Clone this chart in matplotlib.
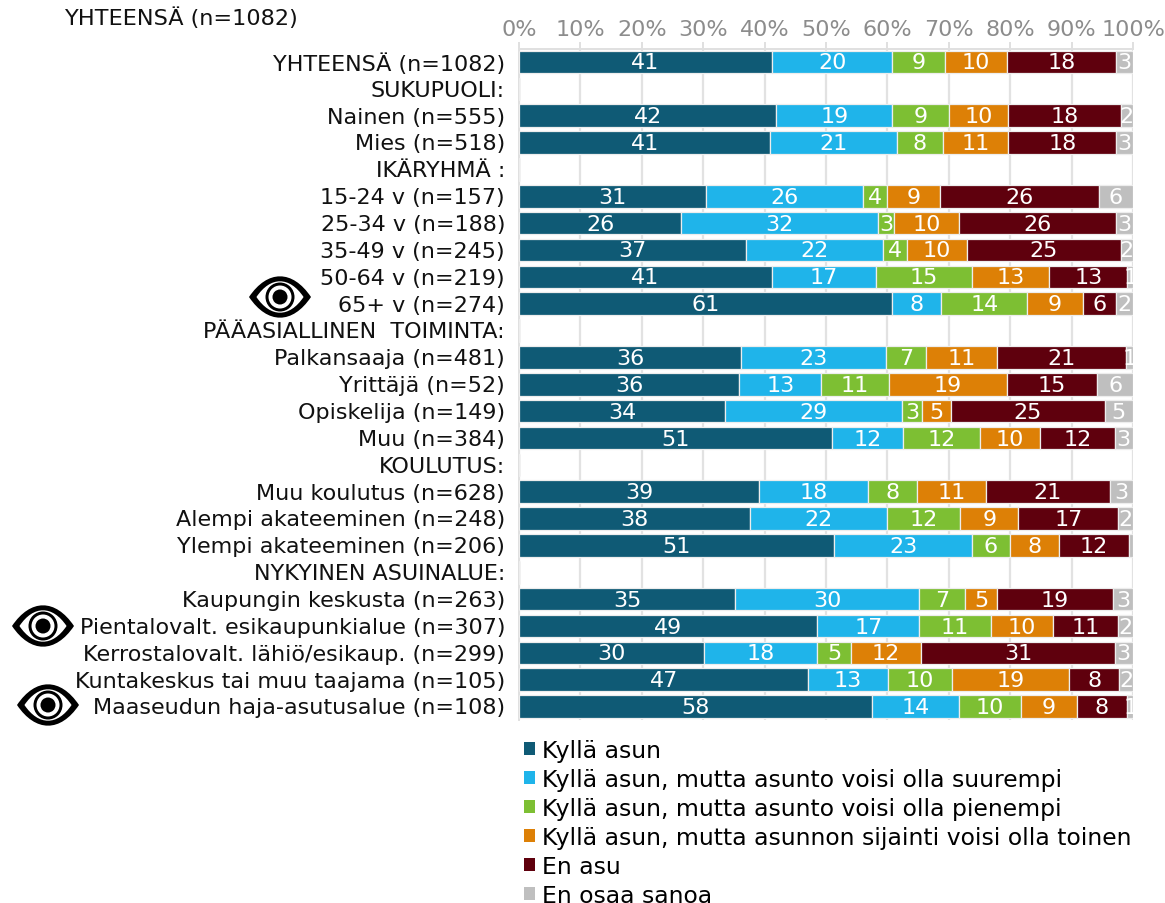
import matplotlib
matplotlib.use("Agg")
import matplotlib.pyplot as plt
from matplotlib.patches import Circle, PathPatch, Patch
from matplotlib.path import Path
from matplotlib.transforms import ScaledTranslation
import numpy as np

plt.rcParams["font.family"] = "DejaVu Sans"

categories = ["YHTEENSÄ (n=1082)", "SUKUPUOLI:", "Nainen (n=555)", "Mies (n=518)", "IKÄRYHMÄ :",
              "15-24 v (n=157)", "25-34 v (n=188)", "35-49 v (n=245)", "50-64 v (n=219)", "65+ v (n=274)",
              "PÄÄASIALLINEN  TOIMINTA:", "Palkansaaja (n=481)", "Yrittäjä (n=52)", "Opiskelija (n=149)",
              "Muu (n=384)", "KOULUTUS:", "Muu koulutus (n=628)", "Alempi akateeminen (n=248)",
              "Ylempi akateeminen (n=206)", "NYKYINEN ASUINALUE:", "Kaupungin keskusta (n=263)",
              "Pientalovalt. esikaupunkialue (n=307)", "Kerrostalovalt. lähiö/esikaup. (n=299)",
              "Kuntakeskus tai muu taajama (n=105)", "Maaseudun haja-asutusalue (n=108)"]

series_names = ["Kyllä asun", "Kyllä asun, mutta asunto voisi olla suurempi",
                "Kyllä asun, mutta asunto voisi olla pienempi",
                "Kyllä asun, mutta asunnon sijainti voisi olla toinen", "En asu", "En osaa sanoa"]
colors = ["#0F5A75", "#1FB4EA", "#7DBF33", "#DD8006", "#5F000D", "#BFBFBF"]

# bar lengths, 0 = heading row
kylla = [41.2, 0, 41.9, 40.9, 0, 30.5, 26.4, 37.0, 41.2, 60.8, 0, 36.2, 35.9, 33.6, 51.0, 0, 39.1, 37.7, 51.3, 0, 35.2, 48.6, 30.2, 47.1, 57.5]
suurempi = [19.6, 0, 18.9, 20.6, 0, 25.6, 32.1, 22.3, 17.0, 8.0, 0, 23.5, 13.3, 28.7, 11.6, 0, 17.8, 22.3, 22.5, 0, 30.0, 16.6, 18.4, 13.0, 14.2]
pienempi = [8.6, 0, 9.3, 7.6, 0, 3.9, 2.6, 3.9, 15.5, 14.0, 0, 6.6, 11.1, 3.4, 12.4, 0, 8.0, 11.9, 6.1, 0, 7.5, 11.6, 5.4, 10.5, 10.1]
sijainti = [10.1, 0, 9.6, 10.6, 0, 8.6, 10.5, 9.8, 12.7, 9.0, 0, 11.5, 19.1, 4.6, 9.9, 0, 11.1, 9.4, 8.0, 0, 5.1, 10.1, 11.5, 19.0, 9.0]
en_asu = [17.8, 0, 18.3, 17.6, 0, 25.8, 25.7, 25.0, 12.7, 5.5, 0, 21.0, 14.8, 25.1, 12.1, 0, 20.3, 16.3, 11.5, 0, 18.9, 10.7, 31.5, 8.2, 8.3]
eos = [2.7, 0, 2.0, 2.7, 0, 5.6, 2.7, 2.0, 0.9, 2.7, 0, 1.2, 5.8, 4.6, 3.0, 0, 3.7, 2.4, 0.6, 0, 3.3, 2.4, 3.0, 2.2, 0.9]

# printed labels, these are the rounded numbers in the chart
lab_kylla = [41, 0, 42, 41, 0, 31, 26, 37, 41, 61, 0, 36, 36, 34, 51, 0, 39, 38, 51, 0, 35, 49, 30, 47, 58]
lab_suurempi = [20, 0, 19, 21, 0, 26, 32, 22, 17, 8, 0, 23, 13, 29, 12, 0, 18, 22, 23, 0, 30, 17, 18, 13, 14]
lab_pienempi = [9, 0, 9, 8, 0, 4, 3, 4, 15, 14, 0, 7, 11, 3, 12, 0, 8, 12, 6, 0, 7, 11, 5, 10, 10]
lab_sijainti = [10, 0, 10, 11, 0, 9, 10, 10, 13, 9, 0, 11, 19, 5, 10, 0, 11, 9, 8, 0, 5, 10, 12, 19, 9]
lab_en_asu = [18, 0, 18, 18, 0, 26, 26, 25, 13, 6, 0, 21, 15, 25, 12, 0, 21, 17, 12, 0, 19, 11, 31, 8, 8]
lab_eos = [3, 0, 2, 3, 0, 6, 3, 2, 1, 2, 0, 1, 6, 5, 3, 0, 3, 2, 1, 0, 3, 2, 3, 2, 1]

values = [kylla, suurempi, pienempi, sijainti, en_asu, eos]
labels = [lab_kylla, lab_suurempi, lab_pienempi, lab_sijainti, lab_en_asu, lab_eos]

W, H = 1165, 904
fig = plt.figure(figsize=(W / 100, H / 100), dpi=100)
ax = fig.add_axes([519 / W, 1 - 721 / H, 614 / W, (721 - 49.5) / H])

y = np.arange(len(categories))
left = np.zeros(len(categories))
for vals, labs, col in zip(values, labels, colors):
    vals = np.array(vals)
    bars = ax.barh(y, vals, left=left, height=0.84, color=col, edgecolor="#EDEDED", linewidth=0.9, zorder=3)
    for b, v, lab, l, yy in zip(bars, vals, labs, left, y):
        if v < 0.8:
            continue
        t = ax.text(l + v / 2, yy + 0.02, str(lab), color="white", fontsize=16, ha="center", va="center", zorder=4)
        t.set_clip_path(b)
    left = left + vals

ax.set_xlim(0, 100)
ax.set_ylim(len(categories) - 0.5, -0.5)
ax.set_xticks(np.arange(0, 101, 10))
ax.set_xticklabels(["%d%%" % p for p in range(0, 101, 10)], color="#8C8C8C", fontsize=16)
ax.xaxis.tick_top()
ax.tick_params(axis="x", length=5, width=1.4, color="#E0E0E0", pad=2)
ax.set_yticks(y)
ax.set_yticklabels(categories, fontsize=16, color="#111111")
ax.tick_params(axis="y", length=0, pad=10)
up = ScaledTranslation(0, 0.8 / 72, fig.dpi_scale_trans)
for lb in ax.get_yticklabels():
    lb.set_transform(lb.get_transform() + up)
ax.grid(axis="x", color="#E2E2E2", linewidth=1.6, zorder=0)
for s in ["right", "bottom"]:
    ax.spines[s].set_visible(False)
ax.spines["top"].set_color("#E0E0E0")
ax.spines["left"].set_color("#E0E0E0")
ax.spines["top"].set_linewidth(1.4)
ax.spines["left"].set_linewidth(1.4)

fig.text(64 / W, 1 - 18 / H, "YHTEENSÄ (n=1082)", fontsize=16.1, color="#111111", va="center", ha="left")

handles = [Patch(facecolor=c, edgecolor="none") for c in colors]
fig.legend(handles, series_names, loc="upper left", bbox_to_anchor=(519 / W, 1 - 735.5 / H), frameon=False,
           fontsize=16.9, handlelength=0.47, handleheight=0.47, handletextpad=0.3,
           labelspacing=0.255, borderpad=0.2, borderaxespad=0)

# eye icons, in pixel coords of the figure
over = fig.add_axes([0, 0, 1, 1], zorder=5)
over.set_xlim(0, W)
over.set_ylim(H, 0)
over.axis("off")


def eye(cx, cy):
    w, h = 31, 19
    for sc, col in [(1.0, "black"), (0.76, "white")]:
        verts = [(cx - w * sc, cy), (cx - w * 0.4 * sc, cy - h * 1.45 * sc), (cx + w * 0.4 * sc, cy - h * 1.45 * sc),
                 (cx + w * sc, cy), (cx + w * 0.4 * sc, cy + h * 1.45 * sc), (cx - w * 0.4 * sc, cy + h * 1.45 * sc),
                 (cx - w * sc, cy)]
        codes = [Path.MOVETO] + [Path.CURVE4] * 6
        over.add_patch(PathPatch(Path(verts, codes), facecolor=col, edgecolor="none"))
    over.add_patch(Circle((cx, cy), 14.5, facecolor="black", edgecolor="none"))
    over.add_patch(Circle((cx, cy), 11.5, facecolor="white", edgecolor="none"))
    over.add_patch(Circle((cx, cy), 7.5, facecolor="black", edgecolor="none"))


eye(280, 298)
eye(43, 627)
eye(48, 706)

fig.savefig("out.png", dpi=100)
